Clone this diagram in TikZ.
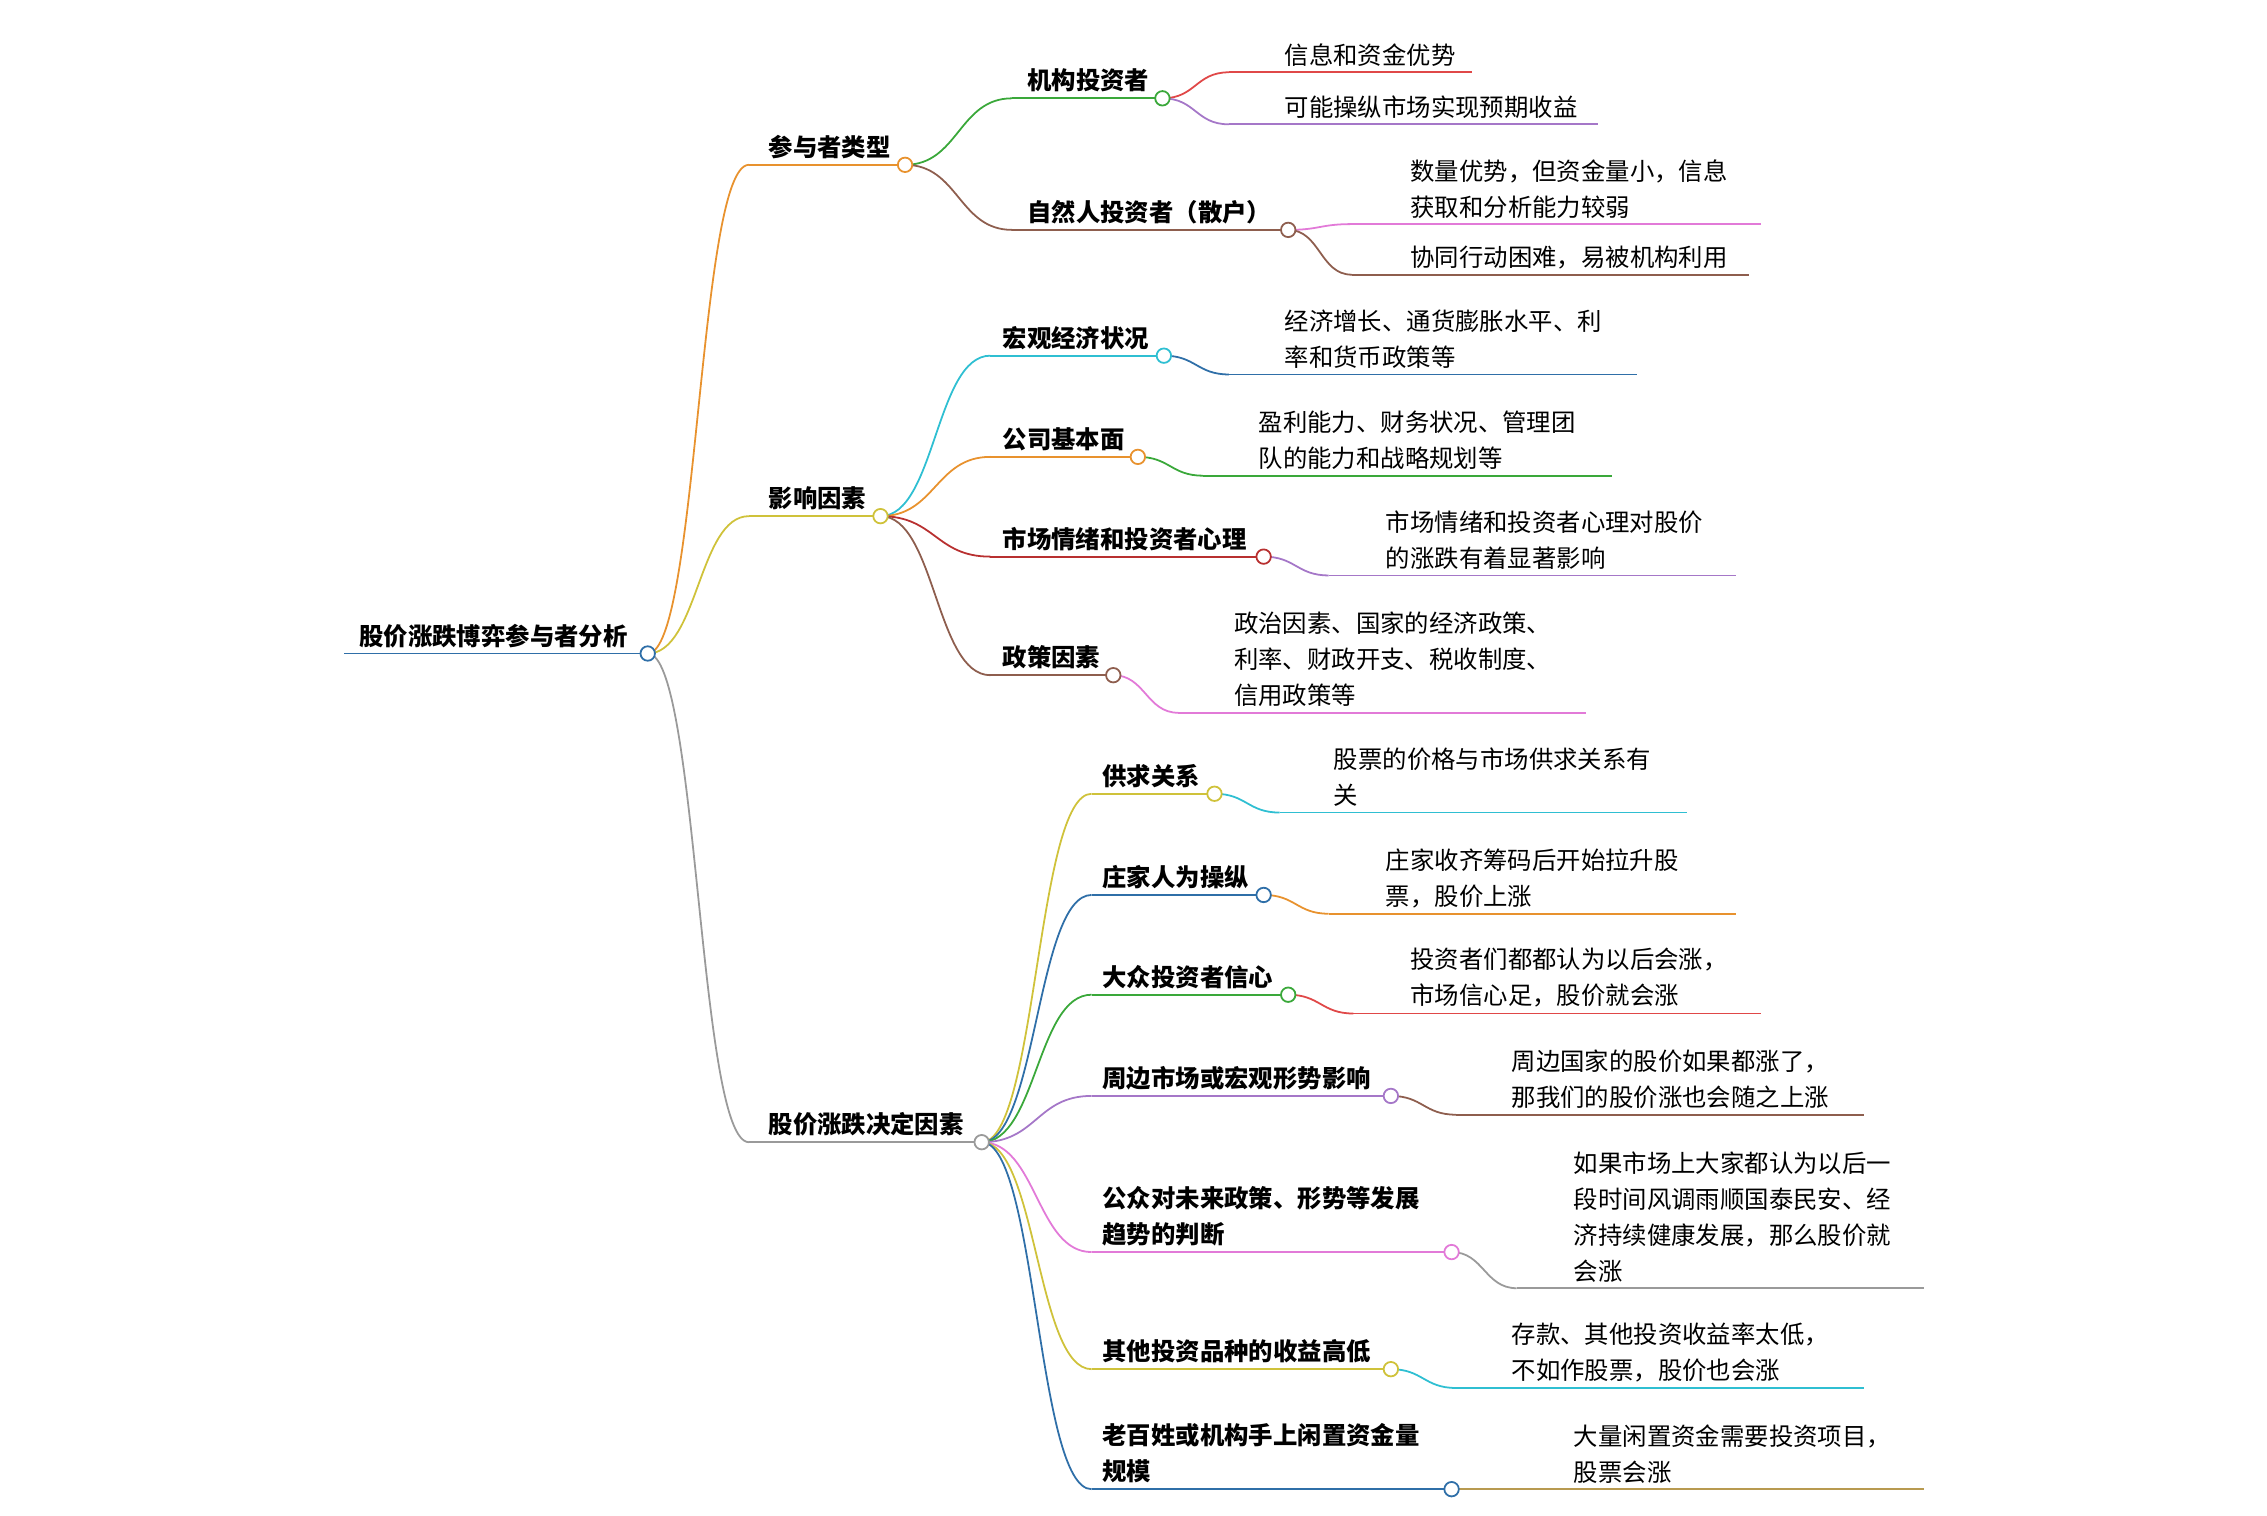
\documentclass[tikz,border=0pt]{standalone}
\usepackage{fontspec}
\setmainfont{Noto Sans CJK SC}
\definecolor{cblue}{HTML}{2F6FA8}
\definecolor{corange}{HTML}{E8922E}
\definecolor{cyellow}{HTML}{CFC23A}
\definecolor{cgray}{HTML}{9A9A9A}
\definecolor{cgreen}{HTML}{3AA83A}
\definecolor{cbrown}{HTML}{8E5E4E}
\definecolor{cred}{HTML}{E04848}
\definecolor{cpurple}{HTML}{A577C8}
\definecolor{cpink}{HTML}{E27AD8}
\definecolor{ccyan}{HTML}{2FBFD2}
\definecolor{cdkred}{HTML}{B83030}
\definecolor{cgold}{HTML}{B89A50}
\begin{document}
\begin{tikzpicture}[x=0.02cm,y=-0.02cm,line width=0.7pt,
    dot/.style={circle,draw=#1,fill=white,line width=0.7pt,inner sep=0pt,minimum size=0.2cm},
    topic/.style={anchor=south west,inner xsep=0pt,inner ysep=0.07cm,font=\bfseries\fontsize{9.6}{14.2}\selectfont,align=left},
    leaf/.style={anchor=south west,inner xsep=0pt,inner ysep=0.07cm,font=\fontsize{9.6}{14.2}\selectfont,align=left}]
        \useasboundingbox (0,0) rectangle (1568,1048);

        % root
        \coordinate (r-s) at (238,452);
        \node[topic] at (248,452) {股价涨跌博弈参与者分析};
        \draw[cblue] (r-s) -- (448,452);

        % level 1
        \coordinate (p-s) at (518,114);
        \node[topic] at (531,114) {参与者类型};
        \coordinate (f-s) at (518,357);
        \node[topic] at (531,357) {影响因素};
        \coordinate (d-s) at (518,790);
        \node[topic] at (531,790) {股价涨跌决定因素};

        % level 2
        \coordinate (p1-s) at (700,68);
        \node[topic] at (710,68) {机构投资者};
        \coordinate (p2-s) at (700,159);
        \node[topic] at (710,159) {自然人投资者（散户）};
        \coordinate (f1-s) at (685,246);
        \node[topic] at (693,246) {宏观经济状况};
        \coordinate (f2-s) at (685,316);
        \node[topic] at (693,316) {公司基本面};
        \coordinate (f3-s) at (685,385);
        \node[topic] at (693,385) {市场情绪和投资者心理};
        \coordinate (f4-s) at (685,467);
        \node[topic] at (693,467) {政策因素};
        \coordinate (d1-s) at (755,549);
        \node[topic] at (762,549) {供求关系};
        \coordinate (d2-s) at (755,619);
        \node[topic] at (762,619) {庄家人为操纵};
        \coordinate (d3-s) at (755,688);
        \node[topic] at (762,688) {大众投资者信心};
        \coordinate (d4-s) at (755,758);
        \node[topic] at (762,758) {周边市场或宏观形势影响};
        \coordinate (d5-s) at (755,866);
        \node[topic] at (762,866) {公众对未来政策、形势等发展\\趋势的判断};
        \coordinate (d6-s) at (755,947);
        \node[topic] at (762,947) {其他投资品种的收益高低};
        \coordinate (d7-s) at (755,1030);
        \node[topic] at (762,1030) {老百姓或机构手上闲置资金量\\规模};

        % leaves
        \coordinate (l1) at (850,50);
        \node[leaf] at (888,50) {信息和资金优势};
        \coordinate (l2) at (850,86);
        \node[leaf] at (888,86) {可能操纵市场实现预期收益};
        \coordinate (l3) at (935,155);
        \node[leaf] at (975,155) {数量优势，但资金量小，信息\\获取和分析能力较弱};
        \coordinate (l4) at (935,190);
        \node[leaf] at (975,190) {协同行动困难，易被机构利用};
        \coordinate (l5) at (850,259);
        \node[leaf] at (888,259) {经济增长、通货膨胀水平、利\\率和货币政策等};
        \coordinate (l6) at (832,329);
        \node[leaf] at (870,329) {盈利能力、财务状况、管理团\\队的能力和战略规划等};
        \coordinate (l7) at (919,398);
        \node[leaf] at (958,398) {市场情绪和投资者心理对股价\\的涨跌有着显著影响};
        \coordinate (l8) at (815,493);
        \node[leaf] at (853,493) {政治因素、国家的经济政策、\\利率、财政开支、税收制度、\\信用政策等};
        \coordinate (l9) at (885,562);
        \node[leaf] at (922,562) {股票的价格与市场供求关系有\\关};
        \coordinate (l10) at (919,632);
        \node[leaf] at (958,632) {庄家收齐筹码后开始拉升股\\票，股价上涨};
        \coordinate (l11) at (936,701);
        \node[leaf] at (975,701) {投资者们都都认为以后会涨，\\市场信心足，股价就会涨};
        \coordinate (l12) at (1007,771);
        \node[leaf] at (1045,771) {周边国家的股价如果都涨了，\\那我们的股价涨也会随之上涨};
        \coordinate (l13) at (1049,891);
        \node[leaf] at (1088,891) {如果市场上大家都认为以后一\\段时间风调雨顺国泰民安、经\\济持续健康发展，那么股价就\\会涨};
        \coordinate (l14) at (1007,960);
        \node[leaf] at (1045,960) {存款、其他投资收益率太低，\\不如作股票，股价也会涨};
        \coordinate (l15) at (1049,1030);
        \node[leaf] at (1088,1030) {大量闲置资金需要投资项目，\\股票会涨};

        % underlines of the topics
        \draw[corange] (p-s) -- (626,114);
        \draw[cyellow] (f-s) -- (609,357);
        \draw[cgray] (d-s) -- (679,790);
        \draw[cgreen] (p1-s) -- (804,68);
        \draw[cbrown] (p2-s) -- (891,159);
        \draw[ccyan] (f1-s) -- (805,246);
        \draw[corange] (f2-s) -- (787,316);
        \draw[cdkred] (f3-s) -- (874,385);
        \draw[cbrown] (f4-s) -- (770,467);
        \draw[cyellow] (d1-s) -- (840,549);
        \draw[cblue] (d2-s) -- (874,619);
        \draw[cgreen] (d3-s) -- (891,688);
        \draw[cpurple] (d4-s) -- (962,758);
        \draw[cpink] (d5-s) -- (1004,866);
        \draw[cyellow] (d6-s) -- (962,947);
        \draw[cblue] (d7-s) -- (1004,1030);

        % leaf lines
        \draw[cred] (l1) -- (1018,50);
        \draw[cpurple] (l2) -- (1105,86);
        \draw[cpink] (l3) -- (1218,155);
        \draw[cbrown] (l4) -- (1210,190);
        \draw[cblue] (l5) -- (1132,259);
        \draw[cgreen] (l6) -- (1115,329);
        \draw[cpurple] (l7) -- (1201,398);
        \draw[cpink] (l8) -- (1097,493);
        \draw[ccyan] (l9) -- (1167,562);
        \draw[corange] (l10) -- (1201,632);
        \draw[cred] (l11) -- (1218,701);
        \draw[cbrown] (l12) -- (1289,771);
        \draw[cgray] (l13) -- (1331,891);
        \draw[ccyan] (l14) -- (1289,960);
        \draw[cgold] (l15) -- (1331,1030);

        % connectors
        \draw[corange] (448,452) .. controls +(35,0) and +(-35,0) .. (p-s);
        \draw[cyellow] (448,452) .. controls +(35,0) and +(-35,0) .. (f-s);
        \draw[cgray] (448,452) .. controls +(35,0) and +(-35,0) .. (d-s);
        \draw[cgreen] (626,114) .. controls +(37,0) and +(-37,0) .. (p1-s);
        \draw[cbrown] (626,114) .. controls +(37,0) and +(-37,0) .. (p2-s);
        \draw[ccyan] (609,357) .. controls +(38,0) and +(-38,0) .. (f1-s);
        \draw[corange] (609,357) .. controls +(38,0) and +(-38,0) .. (f2-s);
        \draw[cdkred] (609,357) .. controls +(38,0) and +(-38,0) .. (f3-s);
        \draw[cbrown] (609,357) .. controls +(38,0) and +(-38,0) .. (f4-s);
        \foreach \c/\t in {cyellow/d1-s,cblue/d2-s,cgreen/d3-s,cpurple/d4-s,cpink/d5-s,cyellow/d6-s,cblue/d7-s}
            \draw[\c] (679,790) .. controls +(38,0) and +(-38,0) .. (\t);
        \draw[cred] (804,68) .. controls +(23,0) and +(-23,0) .. (l1);
        \draw[cpurple] (804,68) .. controls +(23,0) and +(-23,0) .. (l2);
        \draw[cpink] (891,159) .. controls +(22,0) and +(-22,0) .. (l3);
        \draw[cbrown] (891,159) .. controls +(22,0) and +(-22,0) .. (l4);
        \draw[cblue] (805,246) .. controls +(22,0) and +(-22,0) .. (l5);
        \draw[cgreen] (787,316) .. controls +(22,0) and +(-22,0) .. (l6);
        \draw[cpurple] (874,385) .. controls +(22,0) and +(-22,0) .. (l7);
        \draw[cpink] (770,467) .. controls +(22,0) and +(-22,0) .. (l8);
        \draw[ccyan] (840,549) .. controls +(22,0) and +(-22,0) .. (l9);
        \draw[corange] (874,619) .. controls +(22,0) and +(-22,0) .. (l10);
        \draw[cred] (891,688) .. controls +(22,0) and +(-22,0) .. (l11);
        \draw[cbrown] (962,758) .. controls +(22,0) and +(-22,0) .. (l12);
        \draw[cgray] (1004,866) .. controls +(22,0) and +(-22,0) .. (l13);
        \draw[ccyan] (962,947) .. controls +(22,0) and +(-22,0) .. (l14);
        \draw[cgold] (1004,1030) .. controls +(22,0) and +(-22,0) .. (l15);

        % end circles
        \node[dot=cblue] (r) at (448,452) {};
        \node[dot=corange] (p) at (626,114) {};
        \node[dot=cyellow] (f) at (609,357) {};
        \node[dot=cgray] (d) at (679,790) {};
        \node[dot=cgreen] (p1) at (804,68) {};
        \node[dot=cbrown] (p2) at (891,159) {};
        \node[dot=ccyan] (f1) at (805,246) {};
        \node[dot=corange] (f2) at (787,316) {};
        \node[dot=cdkred] (f3) at (874,385) {};
        \node[dot=cbrown] (f4) at (770,467) {};
        \node[dot=cyellow] (d1) at (840,549) {};
        \node[dot=cblue] (d2) at (874,619) {};
        \node[dot=cgreen] (d3) at (891,688) {};
        \node[dot=cpurple] (d4) at (962,758) {};
        \node[dot=cpink] (d5) at (1004,866) {};
        \node[dot=cyellow] (d6) at (962,947) {};
        \node[dot=cblue] (d7) at (1004,1030) {};
    \end{tikzpicture}
\end{document}
